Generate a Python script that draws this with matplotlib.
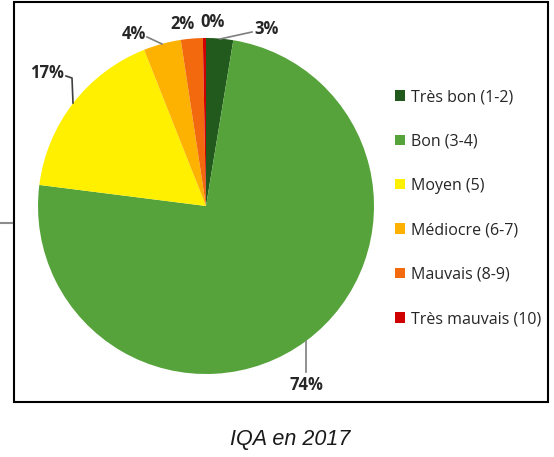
import numpy as np
import matplotlib.pyplot as plt
from matplotlib.patches import Patch, Rectangle
from matplotlib.lines import Line2D

categories = ['Très bon (1-2)', 'Bon (3-4)', 'Moyen (5)', 'Médiocre (6-7)',
              'Mauvais (8-9)', 'Très mauvais (10)']
values = [2.6, 74.4, 17.0, 3.6, 2.1, 0.3]
labels = ['3%', '74%', '17%', '4%', '2%', '0%']
colors = ['#215a1c', '#56a33b', '#fff000', '#fdb100', '#f26a0d', '#d00000']

W, H = 554, 457
fig = plt.figure(figsize=(W / 100, H / 100), dpi=100)

# outer frame like the Excel chart area
fig.patches.append(Rectangle((14 / W, 1 - 402 / H), (548 - 14) / W, (402 - 2) / H,
                             transform=fig.transFigure, fill=False,
                             edgecolor='black', linewidth=1.5))
fig.lines.append(Line2D([0, 12 / W], [1 - 223 / H, 1 - 223 / H],
                        transform=fig.transFigure, color='#8c8c8c', linewidth=1.5))

# pie axes: centre (206, 206) px, radius 168 px
cx, cy, r = 206, 206, 168
ax = fig.add_axes([(cx - r) / W, 1 - (cy + r) / H, 2 * r / W, 2 * r / H])

wedges, _ = ax.pie(values, colors=colors, startangle=90, counterclock=False,
                   radius=1, wedgeprops=dict(linewidth=0))
ax.set_xlim(-1, 1)
ax.set_ylim(-1, 1)
ax.set_aspect('equal')
ax.axis('off')

def px(x, y):
    return (x - cx) / r, (cy - y) / r

lab_font = dict(family=['Open Sans', 'DejaVu Sans'], fontsize=12,
                fontweight='bold', color='#262626')
lc = '#7f7f7f'

# leader lines + labels
ax.plot(*zip(px(220, 39), px(252, 32)), color=lc, lw=1.2, clip_on=False)
ax.text(*px(254, 29), labels[0], ha='left', va='center', **lab_font)

ax.plot(*zip(px(306, 341), px(306, 372)), color=lc, lw=1.2, clip_on=False)
ax.text(*px(306, 385), labels[1], ha='center', va='center', **lab_font)

ax.plot(*zip(px(73, 103), px(72, 78), px(66, 76)), color='#404040', lw=1.2,
        clip_on=False)
ax.text(*px(64, 73), labels[2], ha='right', va='center', **lab_font)

ax.plot(*zip(px(162, 44), px(147, 37)), color=lc, lw=1.2, clip_on=False)
ax.text(*px(146, 34), labels[3], ha='right', va='center', **lab_font)

ax.text(*px(183, 24), labels[4], ha='center', va='center', **lab_font)
ax.text(*px(213, 22), labels[5], ha='center', va='center', **lab_font)

handles = [Patch(facecolor=c, edgecolor='none') for c in colors]
fig.legend(handles, categories, loc='upper left',
           bbox_to_anchor=(395 / W, 1 - 89 / H), frameon=False,
           prop=dict(family=['Open Sans', 'DejaVu Sans'], size=11.5),
           labelspacing=1.78, handlelength=0.62, handleheight=0.62,
           handletextpad=0.4, borderpad=0, borderaxespad=0, labelcolor='#262626')

fig.text(290 / W, 1 - 440 / H, 'IQA en 2017', ha='center', va='center',
         fontsize=15.5, style='italic', family=['Liberation Sans', 'DejaVu Sans'],
         color='#1a1a1a')

fig.savefig('out.png', dpi=100)
